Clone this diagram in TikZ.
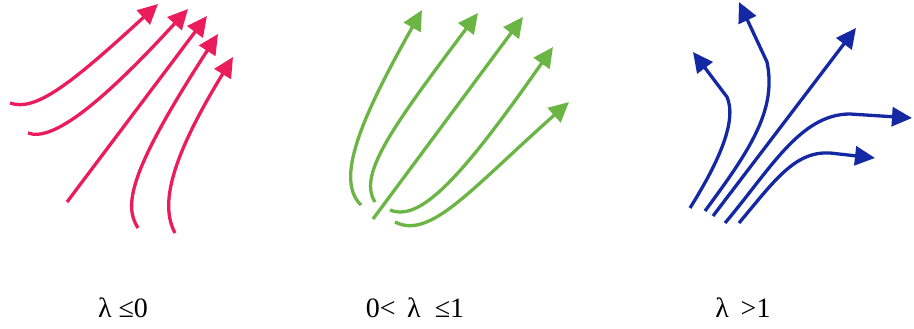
\documentclass[tikz,border=0pt]{standalone}
\usepackage{fontspec}
\setmainfont{Liberation Serif}
\usetikzlibrary{arrows.meta}
\definecolor{flowred}{HTML}{EB1C5B}
\definecolor{flowgreen}{HTML}{6BB544}
\definecolor{flowblue}{HTML}{1428A3}
\begin{document}
\begin{tikzpicture}[x=1pt, y=-1pt, >={Triangle[length=20pt,width=19pt]},
  every node/.style={font=\fontsize{28}{32}\selectfont, anchor=base, inner sep=0pt},
  flow/.style={->, line width=3.3pt}]
\useasboundingbox (0,0) rectangle (914,329);
% lambda <= 0
\draw[flow, flowred] (10,103) .. controls (35,112) and (70,85) .. (158,4);
\draw[flow, flowred] (28,133) .. controls (52,142) and (100,105) .. (188,9);
\draw[flow, flowred] (67,202) -- (207,16);
\draw[flow, flowred] (138,228) .. controls (123,205) and (130,170) .. (218,34);
\draw[flow, flowred] (175,233) .. controls (160,205) and (170,160) .. (233,57);
% 0 < lambda <= 1
\draw[flow, flowgreen] (361,205) .. controls (335,180) and (360,120) .. (422,10);
\draw[flow, flowgreen] (375,202) .. controls (358,175) and (390,130) .. (478,13);
\draw[flow, flowgreen] (373,219) -- (523,17);
\draw[flow, flowgreen] (390,210) .. controls (420,222) and (460,180) .. (553,47);
\draw[flow, flowgreen] (395,222) .. controls (430,240) and (470,190) .. (569,102);
% lambda > 1
\draw[flow, flowblue] (690,208) .. controls (720,160) and (737,120) .. (727,97) -- (693,52);
\draw[flow, flowblue] (705,211) .. controls (750,150) and (777,110) .. (767,62) -- (739,2);
\draw[flow, flowblue] (713,216) -- (856,28);
\draw[flow, flowblue] (725,223) .. controls (770,170) and (800,114) .. (850,114) -- (912,118);
\draw[flow, flowblue] (739,223) .. controls (775,180) and (795,151) .. (830,153) -- (875,158);
% labels
\node (lbl1) at (123,317) {λ ≤0};
\node (lbl2) at (415,317) {0<\,\ λ \ ≤1};
\node (lbl3) at (743,317) {λ \,>1};
\end{tikzpicture}
\end{document}
